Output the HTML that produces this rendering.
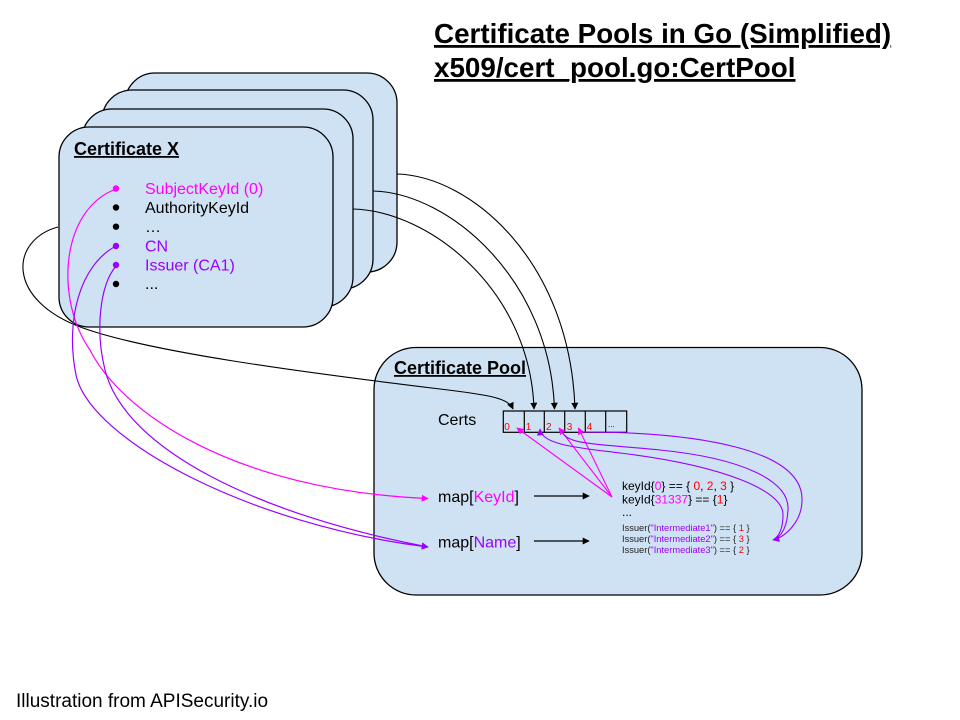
<!DOCTYPE html>
<html><head><meta charset="utf-8"><style>
html,body{margin:0;padding:0;background:#fff;}
svg{display:block;}
text{font-family:"Liberation Sans",Arial,sans-serif;}
</style></head><body>
<svg width="960" height="720" viewBox="0 0 960 720" xmlns="http://www.w3.org/2000/svg">
<defs>
<marker id="ab" viewBox="0 0 10 10" refX="9" refY="5" markerWidth="7" markerHeight="7" markerUnits="userSpaceOnUse" orient="auto"><path d="M0,0 L10,5 L0,10 z" fill="#000"/></marker>
<marker id="am" viewBox="0 0 10 10" refX="9" refY="5" markerWidth="7" markerHeight="7" markerUnits="userSpaceOnUse" orient="auto"><path d="M0,0 L10,5 L0,10 z" fill="#ff00ff"/></marker>
<marker id="ap" viewBox="0 0 10 10" refX="9" refY="5" markerWidth="7" markerHeight="7" markerUnits="userSpaceOnUse" orient="auto"><path d="M0,0 L10,5 L0,10 z" fill="#9900ff"/></marker>
</defs>

<!-- Title -->
<text x="434" y="43" font-size="27.8" font-weight="bold" text-decoration="underline" fill="#000">Certificate Pools in Go (Simplified)</text>
<text x="434" y="77" font-size="27.8" font-weight="bold" text-decoration="underline" fill="#000">x509/cert_pool.go:CertPool</text>

<!-- Card stack -->
<rect x="125" y="73" width="272" height="199" rx="30" ry="30" fill="#cfe2f3" stroke="#000" stroke-width="1.3"/>
<rect x="102" y="90" width="271" height="199" rx="30" ry="30" fill="#cfe2f3" stroke="#000" stroke-width="1.3"/>
<rect x="82" y="109" width="271" height="198" rx="30" ry="30" fill="#cfe2f3" stroke="#000" stroke-width="1.3"/>
<rect x="59" y="127" width="274" height="200" rx="30" ry="30" fill="#cfe2f3" stroke="#000" stroke-width="1.3"/>

<text x="74" y="155" font-size="18" font-weight="bold" text-decoration="underline" fill="#000">Certificate X</text>

<circle cx="116" cy="188.5" r="3.2" fill="#ff00ff"/>
<circle cx="116" cy="207.5" r="3.2" fill="#000"/>
<circle cx="116" cy="226.7" r="3.2" fill="#000"/>
<circle cx="116" cy="246" r="3.2" fill="#9900ff"/>
<circle cx="116" cy="265" r="3.2" fill="#9900ff"/>
<circle cx="116" cy="284" r="3.2" fill="#000"/>

<text x="145" y="194" font-size="16" fill="#ff00ff">SubjectKeyId (0)</text>
<text x="145" y="213" font-size="16" fill="#000">AuthorityKeyId</text>
<text x="145" y="232" font-size="16" fill="#000">…</text>
<text x="145" y="251.5" font-size="16" fill="#9900ff">CN</text>
<text x="145" y="270.5" font-size="16" fill="#9900ff">Issuer (CA1)</text>
<text x="145" y="289" font-size="16" fill="#000">...</text>

<!-- Pool box -->
<rect x="374" y="347.5" width="488" height="247.5" rx="42" ry="42" fill="#cfe2f3" stroke="#000" stroke-width="1.3"/>
<text x="394" y="374" font-size="18" font-weight="bold" text-decoration="underline" fill="#000">Certificate Pool</text>

<text x="438" y="425" font-size="16" fill="#000">Certs</text>

<!-- Cells -->
<g fill="none" stroke="#000" stroke-width="1.2">
<rect x="503.3" y="411" width="123.4" height="21.3"/>
<line x1="524.3" y1="411" x2="524.3" y2="432.3"/>
<line x1="544.3" y1="411" x2="544.3" y2="432.3"/>
<line x1="564.7" y1="411" x2="564.7" y2="432.3"/>
<line x1="585.3" y1="411" x2="585.3" y2="432.3"/>
<line x1="605.7" y1="411" x2="605.7" y2="432.3"/>
</g>
<g font-size="10" fill="#ff0000">
<text x="504.3" y="430">0</text>
<text x="525.7" y="430">1</text>
<text x="546" y="430">2</text>
<text x="566.7" y="430">3</text>
<text x="586.7" y="430">4</text>
</g>
<text x="608" y="427" font-size="8" fill="#000">...</text>

<text x="438" y="502" font-size="16" fill="#000">map[<tspan fill="#ff00ff">KeyId</tspan>]</text>
<text x="438" y="547.5" font-size="16" fill="#000">map[<tspan fill="#9900ff">Name</tspan>]</text>

<line x1="534" y1="496" x2="589" y2="496" stroke="#000" stroke-width="1.2" marker-end="url(#ab)"/>
<line x1="534" y1="541" x2="589" y2="541" stroke="#000" stroke-width="1.2" marker-end="url(#ab)"/>

<text x="622" y="490" font-size="12" fill="#000">keyId{<tspan fill="#ff00ff">0</tspan>} == { <tspan fill="#ff0000">0</tspan>, <tspan fill="#ff0000">2</tspan>, <tspan fill="#ff0000">3</tspan> }</text>
<text x="622" y="503.5" font-size="12" fill="#000">keyId{<tspan fill="#ff00ff">31337</tspan>} == {<tspan fill="#ff0000">1</tspan>}</text>
<text x="622" y="516" font-size="12" fill="#000">...</text>
<g font-size="9.3" fill="#222">
<text x="622" y="531">Issuer(<tspan fill="#9900ff">"Intermediate1"</tspan>) == { <tspan fill="#ff0000">1</tspan> }</text>
<text x="622" y="542">Issuer(<tspan fill="#9900ff">"Intermediate2"</tspan>) == { <tspan fill="#ff0000">3</tspan> }</text>
<text x="622" y="553">Issuer(<tspan fill="#9900ff">"Intermediate3"</tspan>) == { <tspan fill="#ff0000">2</tspan> }</text>
</g>

<!-- Black connectors -->
<g fill="none" stroke="#000" stroke-width="1.1">
<path d="M 397 174 C 470 176, 570 260, 575 409" marker-end="url(#ab)"/>
<path d="M 373 191 C 450 193, 550 280, 554.5 409" marker-end="url(#ab)"/>
<path d="M 353 209 C 430 211, 530 290, 534 409" marker-end="url(#ab)"/>
<path d="M 58 227 C 10 240, 5 300, 83 328 C 150 352, 300 372, 440 389 C 490 395, 508 398, 513 409" marker-end="url(#ab)"/>
</g>

<!-- Magenta / purple connectors from card -->
<g fill="none" stroke-width="1.2">
<path d="M 116 189 C 60 210, 55 300, 90 350 C 120 410, 230 490, 428 498.5" stroke="#ff00ff" marker-end="url(#am)"/>
<path d="M 116 246 C 80 265, 65 320, 76 375 C 90 440, 250 525, 428 547" stroke="#9900ff" marker-end="url(#ap)"/>
<path d="M 116 266 C 100 285, 95 330, 105 370 C 125 450, 260 515, 428 547" stroke="#9900ff" marker-end="url(#ap)"/>
</g>

<!-- Magenta straight arrows to cells -->
<g fill="none" stroke="#ff00ff" stroke-width="1.1">
<line x1="612" y1="497" x2="517" y2="428" marker-end="url(#am)"/>
<line x1="612" y1="497" x2="559" y2="428" marker-end="url(#am)"/>
<line x1="612" y1="497" x2="578.5" y2="428" marker-end="url(#am)"/>
</g>

<!-- Purple curves from issuer map to cells -->
<g fill="none" stroke="#9900ff" stroke-width="1.1">
<path d="M 582 432 C 700 432, 803 450, 802 500 C 802 522, 785 537, 773 540" marker-end="url(#ap)"/>
<path d="M 562 431 C 565 445, 600 444, 660 450 C 740 458, 790 480, 788 510 C 787 528, 781 537, 773 540"/>
<path d="M 773 540 C 778 537, 783 530, 783 515 C 784 490, 720 465, 620 453 C 580 448, 541 445, 540 429" marker-end="url(#ap)"/>
</g>

<text x="16" y="707" font-size="19" fill="#000">Illustration from APISecurity.io</text>
</svg>
</body></html>
